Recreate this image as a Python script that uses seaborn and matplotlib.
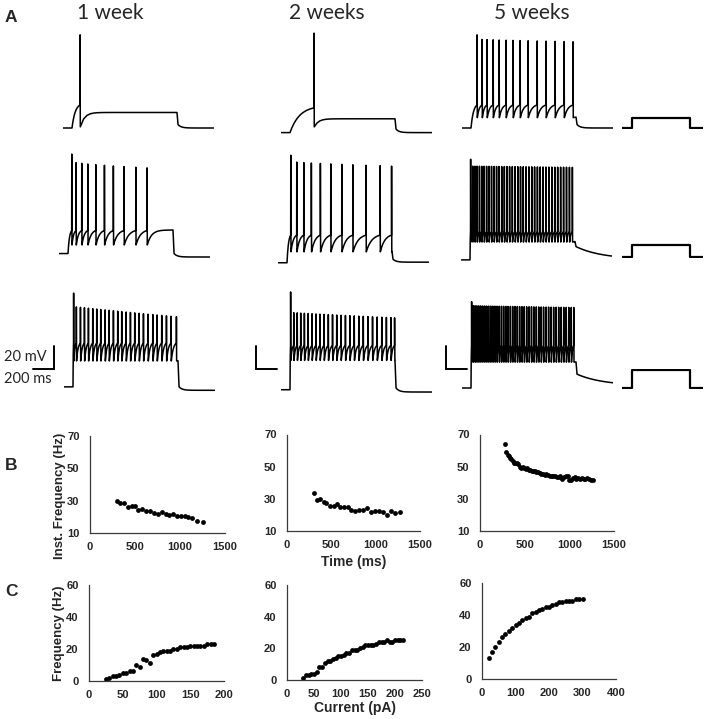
import numpy as np
import matplotlib
matplotlib.use("Agg")
import matplotlib.pyplot as plt
import seaborn as sns

# ---------------- panel A: spike times (ms after current-step onset) ----------------
W1_LOW = [76]
W2_LOW = [228]
W5_LOW = [57, 105, 152, 210, 267, 333, 400, 467, 543, 629, 714, 800, 886, 971]

W1_MID = [35, 76, 130, 188, 264, 346, 431, 533, 645, 752]
W2_MID = [35, 92, 159, 231, 317, 416, 521, 626, 752, 886, 995]
W5_MID = [5, 25, 46, 67, 89, 111, 134, 157, 180, 204, 228, 252, 276, 301, 326, 351,
          376, 402, 428, 454, 480, 506, 533, 560, 587, 614, 641, 668, 695, 722, 750,
          778, 806, 834, 862, 890, 918, 946, 974]

W1_HIGH = [5, 31, 70, 108, 146, 187, 225, 263, 305, 343, 384, 425, 463, 505, 546, 587,
           629, 670, 714, 759, 800, 844, 889, 933, 984]
W2_HIGH = [5, 35, 68, 101, 136, 172, 209, 247, 285, 324, 364, 404, 444, 485, 527, 569,
           611, 654, 697, 741, 785, 829, 873, 917, 960, 995]
W5_HIGH = [5, 21, 38, 55, 73, 91, 110, 129, 148, 167, 187, 207, 227, 247, 268, 289, 310,
           331, 352, 374, 396, 418, 440, 462, 484, 506, 529, 552, 575, 598, 621, 644, 667,
           690, 714, 738, 762, 786, 810, 834, 858, 882, 906, 930, 954, 978]

# voltage levels (mV): rest, threshold, AHP trough, first peak, peak start, peak end,
# plateau, level just after step, final level, decay tau (ms)
W1_LOW_LV = (-70, -50, -69, 11, 11, 11, -56.5, -67, -70, 30)
W2_LOW_LV = (-74, -52.5, -69, 12.5, 12.5, 12.5, -62, -71, -74, 30)
W5_LOW_LV = (-70, -50, -61, 11, 7, 5, -60, -67, -70, 30)
W1_MID_LV = (-67, -47, -59.5, 19.5, 12, 7.5, -46.5, -67, -70, 30)
W2_MID_LV = (-75, -51, -65.5, 18.5, 12.5, 9, -60, -72, -74.5, 30)
W5_MID_LV = (-72.5, -48, -57, 15, 9, 8, -56, -61, -72, 250)
W1_HIGH_LV = (-69, -31, -46.5, 12.5, 0.5, -8, -46, -69, -72, 30)
W2_HIGH_LV = (-71.5, -33, -46, 13.5, -4.5, -9, -46, -70, -73.5, 30)
W5_HIGH_LV = (-70, -33, -47.5, 5, 1.5, 0, -47, -58, -68, 250)

STEP_END = 1000          # ms
STIM_AMPS = [55, 65, 100]  # relative step size of the three current injections

AGES = ["1 week", "2 weeks", "5 weeks"]

# ---------------- panel B: instantaneous frequency vs time ----------------
B1_T = [296, 333, 378, 418, 463, 500, 537, 574, 618, 666, 711, 755, 796, 840, 881, 926,
        970, 1015, 1052, 1092, 1137, 1185, 1252]
B1_F = [30, 28.5, 28.5, 26, 27, 26.5, 24, 25, 23.5, 23.5, 22.5, 22, 23, 21.5, 21, 21.5,
        20.5, 20.5, 20.5, 20, 19, 17.5, 16.5]
B2_T = [300, 338, 375, 413, 443, 488, 525, 563, 600, 645, 683, 724, 769, 814, 855, 900,
        945, 990, 1035, 1080, 1125, 1174, 1223, 1275]
B2_F = [33.4, 29.3, 29.9, 27.8, 27.2, 25.5, 25.7, 26.6, 25.1, 25.1, 25.1, 23, 22.4, 22.8,
        23, 24.1, 21.8, 22.2, 22.6, 21.8, 19.7, 22.6, 21, 21.6]
B3_T = [280, 296, 310, 324, 338, 352, 366, 380, 396, 412, 428, 444, 460, 476, 493, 510,
        527, 544, 561, 578, 596, 614, 632, 650, 668, 687, 706, 725, 744, 763, 782, 801,
        820, 840, 860, 880, 900, 920, 940, 960, 980, 1000, 1020, 1040, 1060, 1080, 1100,
        1120, 1140, 1160, 1180, 1200, 1220, 1240, 1262]
B3_F = [64, 59, 57.5, 56.5, 55.5, 54.5, 53.5, 52.5, 52, 52, 51.5, 49.5, 49, 49.5, 49, 48.5,
        49, 48, 48, 47.5, 47, 47.5, 46.5, 46.5, 46, 45.5, 45.5, 45, 45.5, 45, 44.5, 44.5,
        44, 44.5, 43.5, 43.5, 44, 42.5, 43.5, 44.5, 44, 42, 41.5, 43, 43.5, 42.5, 43,
        42.5, 43, 42.5, 42.5, 43, 42.5, 42, 41.5]

# ---------------- panel C: frequency vs injected current ----------------
C1_I = [25, 30, 35, 40, 45, 50, 55, 60, 65, 70, 75, 80, 85, 90, 95, 100, 105, 110, 115,
        120, 125, 130, 135, 140, 145, 150, 155, 160, 165, 170, 175, 180, 185]
C1_F = [1, 2, 3, 3, 4, 5, 5, 6, 6, 10, 9, 14, 13, 11, 16, 17, 18, 19, 19, 19, 20, 20, 21,
        21, 21, 22, 22, 22, 22, 22, 23, 23, 23]
C2_I = [30, 35, 40, 45, 50, 55, 60, 65, 70, 75, 80, 85, 90, 95, 100, 105, 110, 115, 120,
        125, 130, 135, 140, 145, 150, 155, 160, 165, 170, 175, 180, 185, 190, 195, 200,
        205, 210, 215]
C2_F = [1, 3, 3, 3.5, 4, 5, 8, 8, 11, 12, 12, 13, 14, 15, 15, 16, 17, 17, 19, 19, 19, 20,
        21, 22, 22, 22, 22, 23, 24, 24, 24, 25, 24, 24, 25, 25, 25, 25]
C3_I = [20, 30, 40, 50, 60, 70, 80, 90, 100, 110, 120, 130, 140, 150, 160, 170, 180, 190,
        200, 210, 220, 230, 240, 250, 260, 270, 280, 290, 300]
C3_F = [13, 17, 20, 23, 26, 28, 30, 32, 34, 35, 37, 38, 39, 41, 42, 43, 44, 45, 45, 46, 47,
        48, 48, 49, 49, 49, 50, 50, 50]

# ---------------- layout (pixels) ----------------
FIG_W, FIG_H = 706, 719
T_START, T_END = -90, 1350
PX_MS, PX_MV = 0.105, 1.15
ROW_BASE = [128, 257, 388]
ONSET = [[72, 290, 471], [68, 287, 470], [73, 290, 471]]


def px_axes(fig, left, top, width, height):
    ax = fig.add_axes([left / FIG_W, 1 - (top + height) / FIG_H, width / FIG_W, height / FIG_H])
    ax.patch.set_alpha(0)
    return ax


def fig_text(fig, x, y, s, **kw):
    fig.text(x / FIG_W, 1 - y / FIG_H, s, **kw)


def rise(u, k):
    return (1 - np.exp(-k * u)) / (1 - np.exp(-k))


def build_trace(spikes, lv):
    rest, thresh, trough, pk0, pk1, pk2, plateau, drop, after, tau = lv
    n = len(spikes)
    peaks = [pk0] + list(np.linspace(pk1, pk2, max(n - 1, 1)))[:n - 1]
    t, v = [T_START, 0.0], [rest, rest]
    prev_t, prev_v = 0.0, rest
    u = np.linspace(0, 1, 14)[1:]
    for s, pk in zip(spikes, peaks):
        t += list(prev_t + (s - prev_t) * u)
        v += list(prev_v + (thresh - prev_v) * rise(u, 2.5))
        t += [s + 1.0, s + 3.0]
        v += [pk, trough]
        prev_t, prev_v = s + 3.0, trough
    tt = np.linspace(prev_t, STEP_END, 30)[1:]
    t += list(tt)
    v += list(plateau + (prev_v - plateau) * np.exp(-(tt - prev_t) / 40))
    t0 = STEP_END + 10
    tt = np.linspace(t0, T_END, 50)
    t += list(tt)
    v += list(after + (drop - after) * np.exp(-(tt - t0) / tau))
    return np.array(t), np.array(v)


def style_xy(ax, xlim, xticks, ylim, yticks):
    ax.set_xlim(*xlim)
    ax.set_ylim(*ylim)
    ax.set_xticks(xticks)
    ax.set_yticks(yticks)
    sns.despine(ax=ax)
    for sp in ("left", "bottom"):
        ax.spines[sp].set_color("#3a3a3a")
        ax.spines[sp].set_linewidth(0.9)
    ax.tick_params(axis="both", length=2.5, width=0.8, color="#3a3a3a",
                   labelsize=8, direction="out")
    ax.tick_params(axis="y", pad=5)
    ax.tick_params(axis="x", pad=4)
    for lab in ax.get_xticklabels() + ax.get_yticklabels():
        lab.set_fontweight("bold")
        lab.set_fontfamily("Liberation Sans")
    ax.set_xlabel("")
    ax.set_ylabel("")


sns.set_style("white")
plt.rcParams["font.family"] = ["Liberation Sans", "DejaVu Sans"]

fig = plt.figure(figsize=(FIG_W / 100, FIG_H / 100), dpi=100)

# ---- panel A traces ----
traces = [
    [(W1_LOW, W1_LOW_LV), (W2_LOW, W2_LOW_LV), (W5_LOW, W5_LOW_LV)],
    [(W1_MID, W1_MID_LV), (W2_MID, W2_MID_LV), (W5_MID, W5_MID_LV)],
    [(W1_HIGH, W1_HIGH_LV), (W2_HIGH, W2_HIGH_LV), (W5_HIGH, W5_HIGH_LV)],
]
trace_axes = {}
for r in range(3):
    for c in range(3):
        spikes, lv = traces[r][c]
        left = ONSET[r][c] + T_START * PX_MS
        top = ROW_BASE[r] - (30 + 70) * PX_MV
        ax = px_axes(fig, left, top, (T_END - T_START) * PX_MS, 110 * PX_MV)
        t, v = build_trace(spikes, lv)
        sns.lineplot(x=t, y=v, ax=ax, color="black", linewidth=1.1,
                     estimator=None, sort=False)
        ax.set_xlim(T_START, T_END)
        ax.set_ylim(-80, 30)
        ax.axis("off")
        trace_axes[(r, c)] = ax

    # current-step icon
    ax = px_axes(fig, 632 - 172 * 0.058, ROW_BASE[r] - 105 * 0.18, 1396 * 0.058, 110 * 0.18)
    amp = STIM_AMPS[r]
    sns.lineplot(x=[-172, 0, 0, STEP_END, STEP_END, 1224], y=[0, 0, amp, amp, 0, 0],
                 ax=ax, color="black", linewidth=1.6, estimator=None, sort=False)
    ax.set_xlim(-172, 1224)
    ax.set_ylim(-5, 105)
    ax.axis("off")

# scale bars: 20 mV / 200 ms
bar_y0 = -70 + (388 - 369) / PX_MV
for c, (vx, kind) in enumerate([(54, "right"), (256, "left"), (446, "left")]):
    ax = trace_axes[(2, c)]
    x0 = (vx - ONSET[2][c]) / PX_MS
    if kind == "right":
        xs, ys = [x0 - 200, x0, x0], [bar_y0, bar_y0, bar_y0 + 20]
    else:
        xs, ys = [x0, x0, x0 + 200], [bar_y0 + 20, bar_y0, bar_y0]
    ax.plot(xs, ys, color="black", linewidth=1.4, clip_on=False, solid_joinstyle="miter")

fig_text(fig, 4, 357, "20 mV", family="Lato", fontsize=10.5, va="center", ha="left")
fig_text(fig, 4, 379, "200 ms", family="Lato", fontsize=10.5, va="center", ha="left")

for x, age in zip([110, 327, 532], AGES):
    fig_text(fig, x, 13, age, family="Lato", fontsize=15, ha="center", va="center")

for x, y, letter in [(11, 18, "A"), (11, 466, "B"), (11, 591, "C")]:
    fig_text(fig, x, y, letter, fontsize=12.5, fontweight="bold", ha="center", va="center")

# ---- panel B ----
b_pos = [(90, 436, 135, 97), (287, 434.5, 133, 96.5), (480, 434.5, 134, 96.5)]
b_data = [(B1_T, B1_F), (B2_T, B2_F), (B3_T, B3_F)]
for i, ((l, tp, w, h), (bt, bf)) in enumerate(zip(b_pos, b_data)):
    ax = px_axes(fig, l, tp, w, h)
    sns.scatterplot(x=bt, y=bf, ax=ax, color="black", s=12, linewidth=0, clip_on=False)
    style_xy(ax, (0, 1500), [0, 500, 1000, 1500], (10, 70), [10, 30, 50, 70])
    if i == 0:
        ax.set_ylabel("Inst. Frequency (Hz)", fontsize=9.5, fontweight="bold")
        ax.yaxis.set_label_coords(-0.18, 0.38)
    if i == 1:
        ax.set_xlabel("Time (ms)", fontsize=10, fontweight="bold")
        ax.xaxis.set_label_coords(0.5, -0.25)

# ---- panel C ----
c_pos = [(89, 585, 135, 96), (287, 585, 135, 95), (482, 583, 134, 96)]
c_data = [(C1_I, C1_F), (C2_I, C2_F), (C3_I, C3_F)]
c_x = [((0, 200), [0, 50, 100, 150, 200]),
       ((0, 250), [0, 50, 100, 150, 200, 250]),
       ((0, 400), [0, 100, 200, 300, 400])]
for i, ((l, tp, w, h), (ci, cf), (xl, xt)) in enumerate(zip(c_pos, c_data, c_x)):
    ax = px_axes(fig, l, tp, w, h)
    sns.scatterplot(x=ci, y=cf, ax=ax, color="black", s=12, linewidth=0, clip_on=False)
    style_xy(ax, xl, xt, (0, 60), [0, 20, 40, 60])
    if i == 0:
        ax.set_ylabel("Frequency (Hz)", fontsize=9.5, fontweight="bold")
        ax.yaxis.set_label_coords(-0.175, 0.5)
    if i == 1:
        ax.set_xlabel("Current (pA)", fontsize=10, fontweight="bold")
        ax.xaxis.set_label_coords(0.5, -0.22)

fig.savefig("out.png", dpi=100)
